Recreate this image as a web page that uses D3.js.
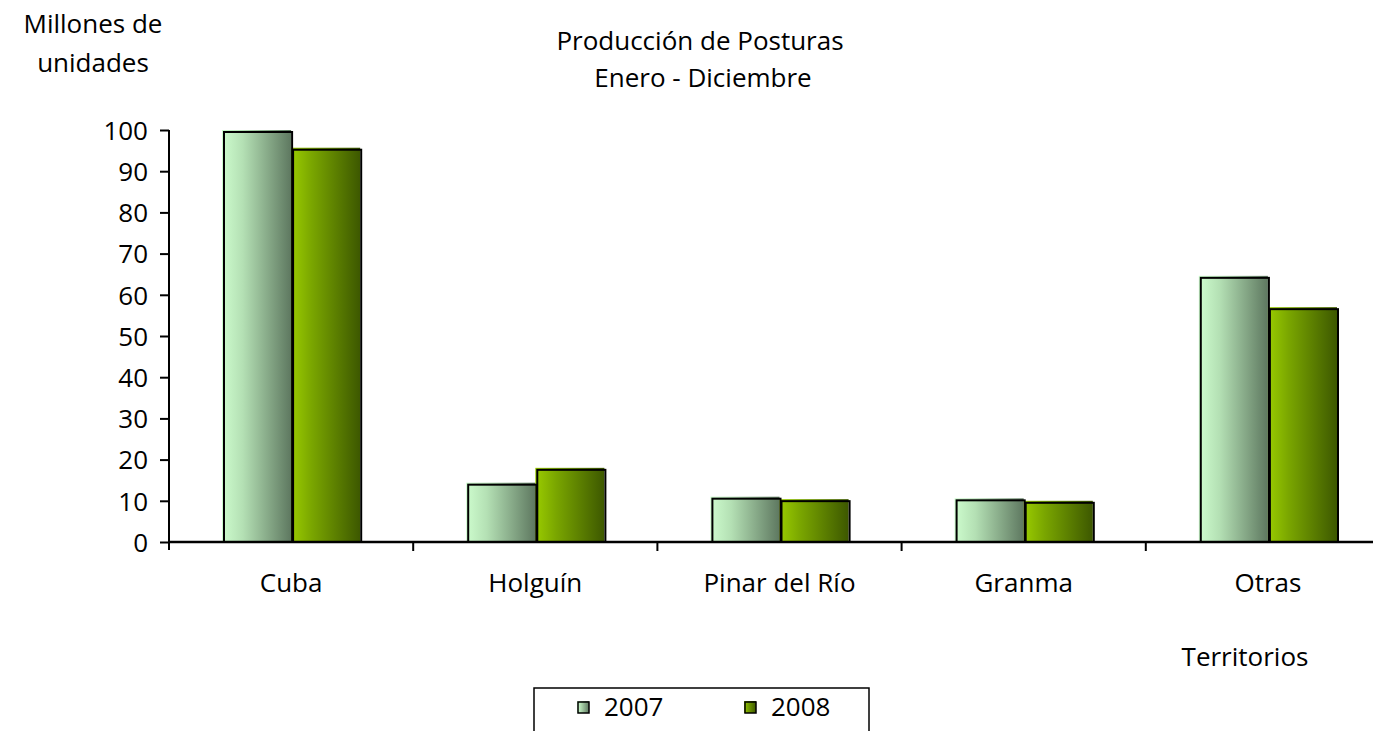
<!DOCTYPE html>
<html>
<head>
<meta charset="utf-8">
<script src="https://cdn.jsdelivr.net/npm/d3@7"></script>
<style>
  body { margin: 0; background: #fff; }
  text { font-family: "Open Sans", "Noto Sans", sans-serif; fill: #000; }
</style>
</head>
<body>
<div id="chart"></div>
<script>
// data
const territorios = ["Cuba", "Holguín", "Pinar del Río", "Granma", "Otras"]
const anios = ["2007", "2008"]
const valores2007 = [100, 14.4, 11.0, 10.6, 64.6]
const valores2008 = [95.7, 18.0, 10.4, 10.0, 57.0]
const yTicks = [0, 10, 20, 30, 40, 50, 60, 70, 80, 90, 100]

const WIDTH = 1373
const HEIGHT = 731
const MARGINS = {left: 169, right: -17, top: 130, bottom: 189}
const FONT_SIZE = 26

/*********************************************
// Scales
*********************************************/
const plotW = WIDTH - MARGINS.left - MARGINS.right
const plotH = HEIGHT - MARGINS.top - MARGINS.bottom

const x = d3.scaleBand()
  .domain(territorios)
  .range([0, plotW])

const xInner = d3.scaleBand()
  .domain(anios)
  .range([53, x.bandwidth() - 53])

const y = d3.scaleLinear()
  .domain([0, 100])
  .range([plotH, 0])

const rows = territorios.map((t, i) => ({
  territorio: t,
  series: [
    {anio: "2007", value: valores2007[i]},
    {anio: "2008", value: valores2008[i]}
  ]
}))

/*********************************************
// SVG
*********************************************/
const svg = d3.select("#chart")
  .append("svg")
  .attr("width", WIDTH)
  .attr("height", HEIGHT)

const defs = svg.append("defs")
const gradients = {
  "2007": ["#cdfccd", "#b4e0b4", "#5e7860"],
  "2008": ["#9acc00", "#7aa600", "#3d5800"]
}
Object.entries(gradients).forEach(([k, stops]) => {
  const g = defs.append("linearGradient")
    .attr("id", `grad-${k}`)
    .attr("x1", "0%").attr("x2", "100%")
    .attr("y1", "0%").attr("y2", "0%")
  g.append("stop").attr("offset", "0%").attr("stop-color", stops[0])
  g.append("stop").attr("offset", "30%").attr("stop-color", stops[1])
  g.append("stop").attr("offset", "100%").attr("stop-color", stops[2])
})

const plot = svg.append("g")
  .attr("transform", `translate(${MARGINS.left},${MARGINS.top})`)

// bars
const groups = plot.selectAll("g.territorio")
  .data(rows).enter()
  .append("g")
  .classed("territorio", true)
  .attr("transform", (d) => `translate(${x(d.territorio)},0)`)

groups.selectAll("rect.bar")
  .data((d) => d.series).enter()
  .append("rect")
  .classed("bar", true)
  .attr("x", (d) => xInner(d.anio))
  .attr("y", (d) => y(d.value))
  .attr("width", xInner.bandwidth())
  .attr("height", (d) => plotH - y(d.value))
  .attr("fill", (d) => `url(#grad-${d.anio})`)

// offset dark outline (shadow look)
groups.selectAll("rect.outline")
  .data((d) => d.series).enter()
  .append("rect")
  .classed("outline", true)
  .attr("x", (d) => xInner(d.anio) + 2)
  .attr("y", (d) => y(d.value) + 2)
  .attr("width", xInner.bandwidth() - 1)
  .attr("height", (d) => plotH - y(d.value) - 2)
  .attr("fill", "none")
  .attr("stroke", "#000")
  .attr("stroke-width", 2)

// y axis
const yAxis = plot.append("g")
  .call(d3.axisLeft(y).tickValues(yTicks).tickSize(9).tickPadding(12))
yAxis.select(".domain").attr("stroke", "#000").attr("stroke-width", 2)
  .attr("d", `M0,0V${plotH + 8}`)
yAxis.selectAll(".tick line").attr("stroke", "#000").attr("stroke-width", 2)
yAxis.selectAll(".tick text")
  .attr("font-size", FONT_SIZE)
  .attr("font-family", "\"Open Sans\", sans-serif")
  .attr("dy", "0.36em")

// x axis
const xAxis = plot.append("g")
  .attr("transform", `translate(0,${plotH})`)
xAxis.append("line")
  .attr("x1", 0).attr("x2", plotW)
  .attr("stroke", "#000").attr("stroke-width", 2.5)
xAxis.selectAll("line.sep")
  .data(territorios.slice(1)).enter()
  .append("line")
  .classed("sep", true)
  .attr("x1", (d) => x(d)).attr("x2", (d) => x(d))
  .attr("y1", 0).attr("y2", 9)
  .attr("stroke", "#000").attr("stroke-width", 2)
xAxis.selectAll("text.cat")
  .data(territorios).enter()
  .append("text")
  .classed("cat", true)
  .attr("x", (d) => x(d) + x.bandwidth() / 2)
  .attr("y", 50)
  .attr("text-anchor", "middle")
  .attr("font-size", FONT_SIZE)
  .text((d) => d)

// titles
const labels = svg.append("g").attr("font-size", FONT_SIZE)
labels.append("text").attr("x", 700).attr("y", 50).attr("text-anchor", "middle")
  .text("Producción de Posturas")
labels.append("text").attr("x", 703).attr("y", 87).attr("text-anchor", "middle")
  .text("Enero - Diciembre")
labels.append("text").attr("x", 93).attr("y", 33).attr("text-anchor", "middle")
  .text("Millones de")
labels.append("text").attr("x", 93).attr("y", 72).attr("text-anchor", "middle")
  .text("unidades")
labels.append("text").attr("x", 1245).attr("y", 666).attr("text-anchor", "middle")
  .text("Territorios")

// legend
const legend = svg.append("g").attr("transform", "translate(534,688)")
legend.append("rect")
  .attr("width", 335).attr("height", 60)
  .attr("fill", "#fff").attr("stroke", "#000").attr("stroke-width", 1.5)
const legendX = d3.scaleOrdinal().domain(anios).range([43, 210])
anios.forEach((a) => {
  const item = legend.append("g").attr("transform", `translate(${legendX(a)},13)`)
  item.append("rect").attr("width", 12).attr("height", 12)
    .attr("fill", `url(#grad-${a})`)
  item.append("rect").attr("x", 1).attr("y", 1).attr("width", 11).attr("height", 11)
    .attr("fill", "none").attr("stroke", "#000").attr("stroke-width", 1.5)
  item.append("text").attr("x", 27).attr("y", 15)
    .attr("font-size", FONT_SIZE).text(a)
})
</script>
</body>
</html>
